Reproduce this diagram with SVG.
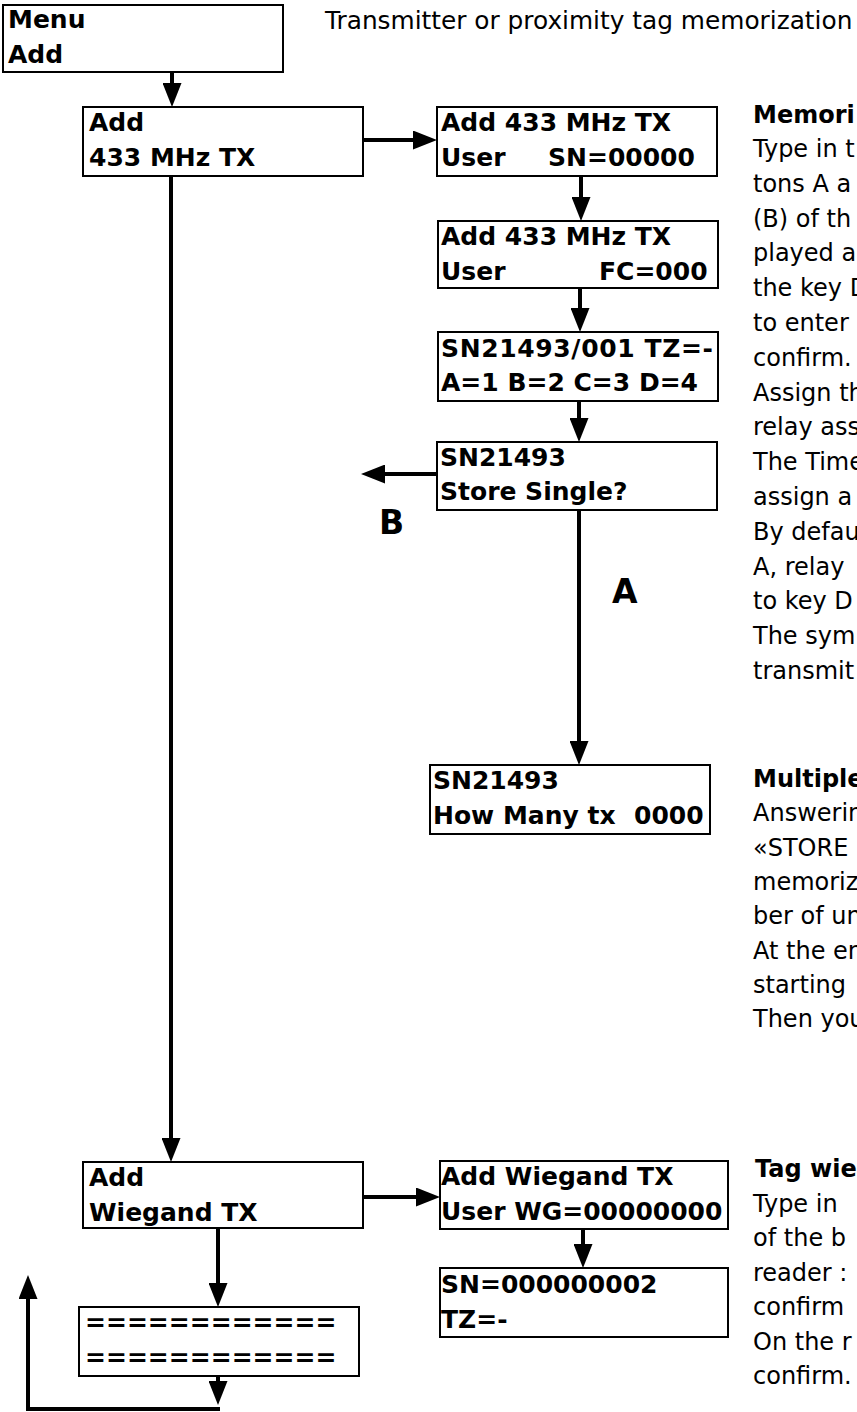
<svg xmlns="http://www.w3.org/2000/svg" width="857" height="1412" viewBox="0 0 857 1412">
<defs>
<style>
.box{fill:#fff;stroke:#000;stroke-width:2}
.bt{font-family:"DejaVu Sans",Verdana,sans-serif;font-weight:bold;font-size:25px;fill:#000}
.body{font-family:"DejaVu Sans",Verdana,sans-serif;font-size:24px;fill:#000}
.head{font-family:"DejaVu Sans",Verdana,sans-serif;font-weight:bold;font-size:24px;fill:#000}
.lbl{font-family:"DejaVu Sans",Verdana,sans-serif;font-weight:bold;font-size:33px;fill:#000}
.ln{fill:none;stroke:#000;stroke-width:4}
</style>
<marker id="ah" viewBox="0 0 24 19" markerUnits="userSpaceOnUse" markerWidth="24" markerHeight="19" refX="4" refY="9.5" orient="auto">
<path d="M0,0 L24,9.5 L0,19 z" fill="#000"/>
</marker>
</defs>
<rect width="857" height="1412" fill="#fff"/>

<text class="body" x="325" y="29" style="font-size:24.8px">Transmitter or proximity tag memorization</text>

<g id="connectors">
<line class="ln" x1="172" y1="72" x2="172" y2="87" marker-end="url(#ah)"/>
<line class="ln" x1="363" y1="140" x2="417" y2="140" marker-end="url(#ah)"/>
<line class="ln" x1="581" y1="176" x2="581" y2="201" marker-end="url(#ah)"/>
<line class="ln" x1="580" y1="288" x2="580" y2="312" marker-end="url(#ah)"/>
<line class="ln" x1="579" y1="401" x2="579" y2="422" marker-end="url(#ah)"/>
<line class="ln" x1="437" y1="474" x2="381" y2="474" marker-end="url(#ah)"/>
<line class="ln" x1="579" y1="510" x2="579" y2="745" marker-end="url(#ah)"/>
<line class="ln" x1="171" y1="176" x2="171" y2="1142" marker-end="url(#ah)"/>
<line class="ln" x1="363" y1="1197" x2="420" y2="1197" marker-end="url(#ah)"/>
<line class="ln" x1="583" y1="1229" x2="583" y2="1248" marker-end="url(#ah)"/>
<line class="ln" x1="218" y1="1228" x2="218" y2="1287" marker-end="url(#ah)"/>
<line class="ln" x1="218" y1="1376" x2="218" y2="1385" marker-end="url(#ah)"/>
<polyline class="ln" points="220,1409 28,1409 28,1295" marker-end="url(#ah)"/>
<text class="lbl" x="379" y="534">B</text>
<text class="lbl" x="612" y="603">A</text>
</g>

<g id="menu-add">
<rect class="box" x="3" y="5" width="280" height="67"/>
<text class="bt" x="8" y="28">Menu</text>
<text class="bt" x="8" y="63">Add</text>
</g>

<g id="add-433">
<rect class="box" x="83" y="107" width="280" height="69"/>
<text class="bt" x="89" y="131">Add</text>
<text class="bt" x="89" y="166">433 MHz TX</text>
</g>

<g id="add-433-sn">
<rect class="box" x="437" y="107" width="280" height="69"/>
<text class="bt" x="441" y="131">Add 433 MHz TX</text>
<text class="bt" y="166"><tspan x="441">User</tspan><tspan x="548">SN=00000</tspan></text>
</g>

<g id="add-433-fc">
<rect class="box" x="438" y="221" width="280" height="67"/>
<text class="bt" x="441" y="245">Add 433 MHz TX</text>
<text class="bt" y="280"><tspan x="441">User</tspan><tspan x="599">FC=000</tspan></text>
</g>

<g id="sn-tz">
<rect class="box" x="438" y="332" width="280" height="69"/>
<text class="bt" x="441" y="357" textLength="272" lengthAdjust="spacing">SN21493/001 TZ=-</text>
<text class="bt" x="441" y="391">A=1 B=2 C=3 D=4</text>
</g>

<g id="store-single">
<rect class="box" x="437" y="442" width="280" height="68"/>
<text class="bt" x="440" y="466">SN21493</text>
<text class="bt" x="440" y="500">Store Single?</text>
</g>

<g id="how-many">
<rect class="box" x="430" y="765" width="280" height="69"/>
<text class="bt" x="433" y="789">SN21493</text>
<text class="bt" y="824"><tspan x="433">How Many tx</tspan><tspan x="634">0000</tspan></text>
</g>

<g id="add-wiegand">
<rect class="box" x="83" y="1162" width="280" height="66"/>
<text class="bt" x="89" y="1186">Add</text>
<text class="bt" x="89" y="1221">Wiegand TX</text>
</g>

<g id="add-wiegand-tx">
<rect class="box" x="440" y="1161" width="288" height="68"/>
<text class="bt" x="441" y="1185">Add Wiegand TX</text>
<text class="bt" x="441" y="1220">User WG=00000000</text>
</g>

<g id="sn-wiegand">
<rect class="box" x="440" y="1268" width="288" height="69"/>
<text class="bt" x="441" y="1293">SN=000000002</text>
<text class="bt" x="441" y="1328">TZ=-</text>
</g>

<g id="separator">
<rect class="box" x="79" y="1307" width="280" height="69"/>
<text class="bt" x="85" y="1331">============</text>
<text class="bt" x="85" y="1366">============</text>
</g>

<g id="notes">
<text class="head" x="753" y="123">Memori</text>
<text class="body" x="753" y="157">Type in t</text>
<text class="body" x="753" y="191.8">tons A a</text>
<text class="body" x="753" y="226.6">(B) of th</text>
<text class="body" x="753" y="261.4">played a</text>
<text class="body" x="753" y="296.2">the key D</text>
<text class="body" x="753" y="331">to enter</text>
<text class="body" x="753" y="365.8">confirm.</text>
<text class="body" x="753" y="400.6">Assign th</text>
<text class="body" x="753" y="435.4">relay ass</text>
<text class="body" x="753" y="470.2">The Time</text>
<text class="body" x="753" y="505">assign a</text>
<text class="body" x="753" y="539.8">By defau</text>
<text class="body" x="753" y="574.6">A, relay</text>
<text class="body" x="753" y="609.4">to key D</text>
<text class="body" x="753" y="644.2">The sym</text>
<text class="body" x="753" y="679">transmit</text>

<text class="head" x="753" y="787">Multiple</text>
<text class="body" x="753" y="821.3">Answerin</text>
<text class="body" x="753" y="855.6">«STORE</text>
<text class="body" x="753" y="889.9">memoriz</text>
<text class="body" x="753" y="924.2">ber of un</text>
<text class="body" x="753" y="958.5">At the en</text>
<text class="body" x="753" y="992.8">starting</text>
<text class="body" x="753" y="1027.1">Then you</text>

<text class="head" x="755" y="1177">Tag wie</text>
<text class="body" x="753" y="1211.5">Type in</text>
<text class="body" x="753" y="1246">of the b</text>
<text class="body" x="753" y="1280.5">reader :</text>
<text class="body" x="753" y="1315">confirm</text>
<text class="body" x="753" y="1349.5">On the r</text>
<text class="body" x="753" y="1384">confirm.</text>
</g>
</svg>
